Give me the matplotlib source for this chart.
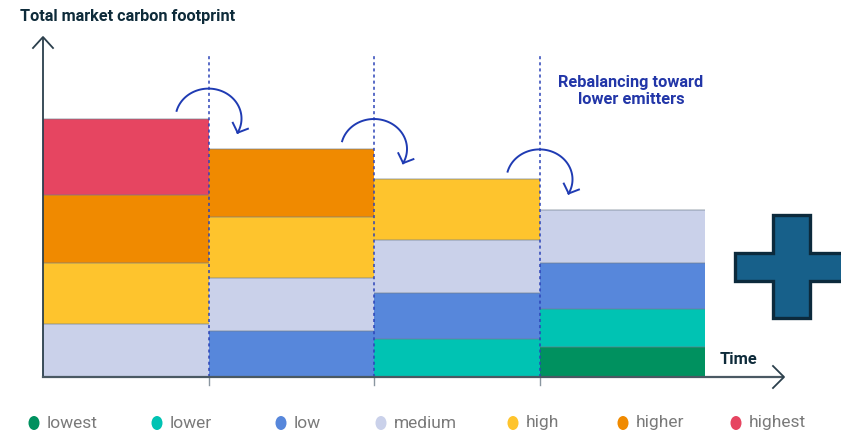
import numpy as np
import matplotlib.pyplot as plt
from matplotlib.patches import Ellipse, Polygon
from matplotlib.transforms import Affine2D

plt.rcParams['font.family'] = ['Roboto', 'DejaVu Sans']

# emitter groups, bottom to top
categories = ['lowest', 'lower', 'low', 'medium', 'high', 'higher', 'highest']
colors = ['#00915f', '#00c3b3', '#5787db', '#cad1ea', '#fec42d', '#f08a00', '#e64561']
footprint = [4, 5, 6, 7, 8, 9, 10]
# which groups make up the market in each period
periods = [[3, 4, 5, 6], [2, 3, 4, 5], [1, 2, 3, 4], [0, 1, 2, 3]]

W, H = 841, 433
fig = plt.figure(figsize=(W / 100, H / 100), dpi=100)
ax = fig.add_axes([0, 0, 1, 1])

# scale: one period = 165.5 px, one footprint unit = 7.6 px, origin at (43, 377)
col_px, unit_px, x0, y0 = 165.5, 7.6, 43, 377
ax.set_xlim(-x0 / col_px, (W - x0) / col_px)
ax.set_ylim(-(H - y0) / unit_px, y0 / unit_px)
ax.axis('off')

# pixel coords (top-left origin) for decorations
pix = Affine2D().scale(1 / W, -1 / H).translate(0, 1) + fig.transFigure

tops = []
for i, groups in enumerate(periods):
    bottom = 0
    for k in groups:
        ax.bar(i + 0.5, footprint[k], bottom=bottom, width=1.0,
               color=colors[k], linewidth=0, zorder=2)
        bottom += footprint[k]
        ax.plot([i, i + 1], [bottom, bottom], color='#6f7d8c', lw=1.1,
                alpha=0.45, zorder=3, solid_capstyle='butt')
    tops.append(bottom)

# period boundaries
for i in range(1, len(periods)):
    ax.plot([i, i], [0, (y0 - 55) / unit_px], color='#2c44b8', lw=1.1,
            ls=(0, (2, 2)), zorder=4)
    ax.plot([i, i], [0, -8 / unit_px], color='#8a96a0', lw=1, zorder=4)

# axes with open arrowheads
ax_col = '#2b3f4c'
fig.add_artist(plt.Line2D([43, 43], [377, 38], transform=pix, color=ax_col, lw=1.3))
fig.add_artist(plt.Line2D([33, 43, 53], [48, 37, 48], transform=pix, color=ax_col, lw=1.3))
fig.add_artist(plt.Line2D([43, 783], [377, 377], transform=pix, color='#4a5963', lw=1.6))
fig.add_artist(plt.Line2D([773, 784, 773], [366, 377, 388], transform=pix, color=ax_col, lw=1.3))

# rebalancing arrows
arc_col = '#1f3bb3'
for i in range(3):
    cx = x0 + (i + 1) * col_px
    cy = y0 - tops[i] * unit_px
    th = np.radians(np.linspace(165, -28, 80))
    xs = cx + 33 * np.cos(th)
    ys = cy - 30 * np.sin(th)
    fig.add_artist(plt.Line2D(xs, ys, transform=pix, color=arc_col, lw=1.4))
    d = np.array([xs[-2] - xs[-1], ys[-2] - ys[-1]])
    d = d / np.hypot(*d)
    for a in (40, -55):
        r = np.radians(a)
        w = np.array([d[0] * np.cos(r) - d[1] * np.sin(r), d[0] * np.sin(r) + d[1] * np.cos(r)])
        fig.add_artist(plt.Line2D([xs[-1], xs[-1] + 11 * w[0]], [ys[-1], ys[-1] + 11 * w[1]],
                                  transform=pix, color=arc_col, lw=1.4))

# texts
fig.text(20, 17, 'Total market carbon footprint', transform=pix, fontsize=11.7,
         fontweight='bold', color='#0e2b3a', va='center', ha='left')
fig.text(631, 91, 'Rebalancing toward\nlower emitters', transform=pix, fontsize=11.8,
         fontweight='bold', color='#2236a8', va='center', ha='center', linespacing=1.15)
fig.text(739, 359, 'Time', transform=pix, fontsize=11.8, fontweight='bold',
         color='#0e2b3a', va='center', ha='center')

# plus sign
plus = [(773, 215), (810, 215), (810, 253), (850, 253), (850, 281), (810, 281),
        (810, 318), (773, 318), (773, 281), (735, 281), (735, 253), (773, 253)]
fig.add_artist(Polygon(plus, closed=True, transform=pix, facecolor='#17608a',
                       edgecolor='#0c2a3c', lw=2.4))

# legend
leg_x = [34, 157, 281, 381, 513, 623, 736]
for lx, name, c in zip(leg_x, categories, colors):
    fig.add_artist(Ellipse((lx, 423), 11, 14, transform=pix, facecolor=c, edgecolor='none'))
    fig.text(lx + 13, 423, name, transform=pix, fontsize=12.5, color='#7a7a7a',
             va='center', ha='left')

fig.savefig('out.png', dpi=100)
